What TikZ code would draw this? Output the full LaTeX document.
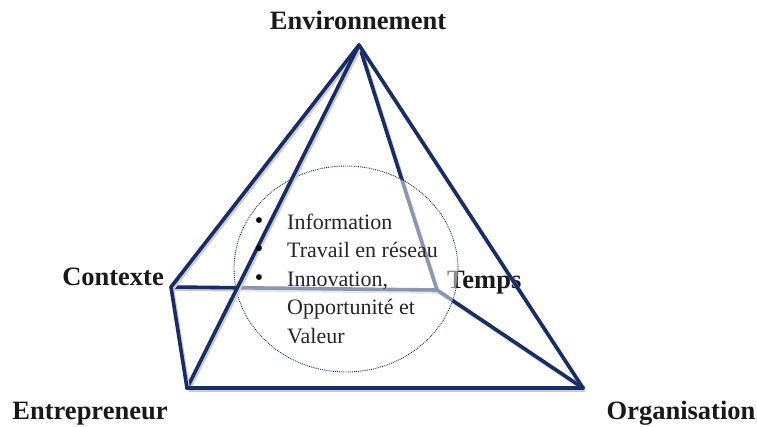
\documentclass[tikz,border=0pt]{standalone}
\usepackage{fontspec}
\setmainfont{Liberation Serif}
\usetikzlibrary{shapes.geometric}
\definecolor{navy}{HTML}{172D6A}
\begin{document}
\begin{tikzpicture}[x=1pt,y=-1pt,
  edge/.style={draw=navy,line width=3.6pt,line join=round,line cap=round,
    preaction={draw=black!20,line width=3.6pt,transform canvas={shift={(1.5pt,-2pt)}}}},
  lbl/.style={font=\bfseries\fontsize{26.5}{28}\selectfont,inner sep=0pt,text=black!90},
  item/.style={font=\fontsize{22}{28.5}\selectfont,inner sep=0pt,align=left,text=black!85},
  dot/.style={font=\fontsize{24}{26}\selectfont,inner sep=0pt}]
\useasboundingbox (0,0) rectangle (757,426);
\coordinate (E) at (359,45);
\coordinate (C) at (171,287);
\coordinate (T) at (437,290);
\coordinate (P) at (187,388);
\coordinate (O) at (583,388);
% back edges
\draw[edge] (C) -- (T);
\draw[edge] (E) -- (T);
\draw[edge] (T) -- (O);
\node[lbl,anchor=base west] (temps) at (447,288) {Temps};
% circle overlay
\node[draw=navy,densely dotted,line width=0.9pt,fill=white,fill opacity=0.5,
  ellipse,minimum width=224pt,minimum height=206pt,inner sep=0pt] (circ) at (346,269) {};
% front edges
\draw[edge] (E) -- (C);
\draw[edge] (E) -- (P);
\draw[edge] (E) -- (O);
\draw[edge] (C) -- (P);
\draw[edge] (P) -- (O);
% labels
\node[lbl,anchor=base] (env) at (358,29) {Environnement};
\node[lbl,anchor=base east] (ctx) at (164,285) {Contexte};
\node[lbl,anchor=base] (ent) at (90,419) {Entrepreneur};
\node[lbl,anchor=base] (org) at (681,419) {Organisation};
% list
\node[dot] (b1) at (259,223) {•};
\node[dot] (b2) at (259,251) {•};
\node[dot] (b3) at (259,280) {•};
\node[item,anchor=base west] (txt) at (287,343) {Information\\Travail en réseau\\Innovation,\\Opportunité et\\Valeur};
\end{tikzpicture}
\end{document}
